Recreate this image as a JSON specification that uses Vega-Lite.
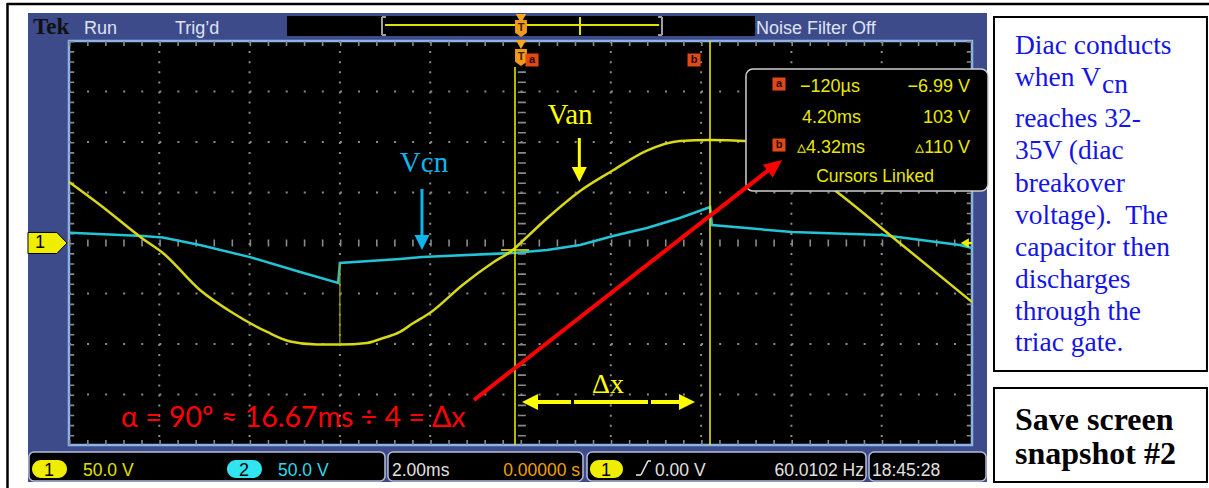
{
"$schema": "https://vega.github.io/schema/vega-lite/v6.json",
"width": 1209, "height": 488, "padding": 0, "autosize": {"type": "none"},
"background": "#ffffff",
"config": {"view": {"stroke": null}},
"encoding": {
 "x": {"field": "t", "type": "quantitative", "scale": {"domain": [-11.528, 15.249], "nice": false, "zero": false}, "axis": null},
 "y": {"field": "v", "type": "quantitative", "scale": {"domain": [-242.57, 240.59], "nice": false, "zero": false}, "axis": null}
},
"layer": [
 {"data": {"values": [{"t": -11.373, "v": 236.63, "t2": 15.249, "v2": 236.63}, {"t": -11.362, "v": 237.62, "t2": -11.362, "v2": -242.57}]},
  "mark": {"type": "rule", "color": "#000000", "strokeWidth": 2.5},
  "encoding": {"x2": {"field": "t2"}, "y2": {"field": "v2"}}},
 {"data": {"values": [{"t": -10.908, "v": 227.72, "t2": 10.332, "v2": -236.63}]},
  "mark": {"type": "rect", "fill": "#3d4b8b"},
  "encoding": {"x2": {"field": "t2"}, "y2": {"field": "v2"}}},
 {"data": {"values": [{"t": -5.172, "v": 224.75, "t2": 5.194, "v2": 204.95}]},
  "mark": {"type": "rect", "fill": "#000000"},
  "encoding": {"x2": {"field": "t2"}, "y2": {"field": "v2"}}},
 {"data": {"values": [
   {"t": -3.068, "v": 223.76, "t2": -3.068, "v2": 205.94},
   {"t": 3.134, "v": 223.76, "t2": 3.134, "v2": 205.94},
   {"t": -3.068, "v": 223.76, "t2": -2.98, "v2": 223.76},
   {"t": -3.068, "v": 205.94, "t2": -2.98, "v2": 205.94},
   {"t": 3.134, "v": 223.76, "t2": 3.046, "v2": 223.76},
   {"t": 3.134, "v": 205.94, "t2": 3.046, "v2": 205.94}]},
  "mark": {"type": "rule", "color": "#a0a0a0", "strokeWidth": 2},
  "encoding": {"x2": {"field": "t2"}, "y2": {"field": "v2"}}},
 {"data": {"values": [
   {"t": -3.0, "v": 215.84, "t2": 3.07, "v2": 215.84},
   {"t": 1.318, "v": 223.76, "t2": 1.318, "v2": 205.94}]},
  "mark": {"type": "rule", "color": "#e0e000", "strokeWidth": 2},
  "encoding": {"x2": {"field": "t2"}, "y2": {"field": "v2"}}},
 {"data": {"values": [
   {"t": -9.668, "v": 206.93, "label": "Run"},
   {"t": -7.652, "v": 206.93, "label": "Trig’d"},
   {"t": 5.216, "v": 206.93, "label": "Noise Filter Off"}]},
  "mark": {"type": "text", "align": "left", "baseline": "alphabetic", "font": "Liberation Sans, Arial, sans-serif", "fontSize": 18, "color": "#dfe3f2"},
  "encoding": {"text": {"field": "label"}}},
 {"data": {"values": [{"t": -10.797, "v": 206.93, "label": "Tek"}]},
  "mark": {"type": "text", "align": "left", "baseline": "alphabetic", "font": "Liberation Serif, DejaVu Serif, serif", "fontSize": 23, "fontWeight": "bold", "color": "#111111"},
  "encoding": {"text": {"field": "label"}}},
 {"data": {"values": [{"t": -10.0, "v": 200, "t2": 10.0, "v2": -200}]},
  "mark": {"type": "rect", "fill": "#000000", "stroke": "#8cb4e6", "strokeWidth": 2.5},
  "encoding": {"x2": {"field": "t2"}, "y2": {"field": "v2"}}},
 {"data": {"values": [
   {"t": -8, "v": 200, "v2": -200}, {"t": -6, "v": 200, "v2": -200}, {"t": -4, "v": 200, "v2": -200}, {"t": -2, "v": 200, "v2": -200},
   {"t": 2, "v": 200, "v2": -200}, {"t": 4, "v": 200, "v2": -200}, {"t": 6, "v": 200, "v2": -200}, {"t": 8, "v": 200, "v2": -200}]},
  "mark": {"type": "rule", "color": "#8a8a8a", "strokeWidth": 2, "strokeDash": [2, 8.1]},
  "encoding": {"y2": {"field": "v2"}}},
 {"data": {"values": [
   {"t": -10, "v": 150, "t2": 10}, {"t": -10, "v": 100, "t2": 10}, {"t": -10, "v": 50, "t2": 10},
   {"t": -10, "v": -50, "t2": 10}, {"t": -10, "v": -100, "t2": 10}, {"t": -10, "v": -150, "t2": 10}]},
  "mark": {"type": "rule", "color": "#8a8a8a", "strokeWidth": 2, "strokeDash": [2, 16.06]},
  "encoding": {"x2": {"field": "t2"}}},
 {"data": {"values": [{"t": -10, "v": 0, "t2": 10}]},
  "mark": {"type": "rule", "color": "#8a8a8a", "strokeWidth": 7, "strokeDash": [1.6, 16.46]},
  "encoding": {"x2": {"field": "t2"}}},
 {"data": {"values": [{"t": -10, "v": 197.4, "t2": 10}, {"t": -10, "v": -197.4, "t2": 10}]},
  "mark": {"type": "rule", "color": "#8a8a8a", "strokeWidth": 5, "strokeDash": [1.6, 16.46]},
  "encoding": {"x2": {"field": "t2"}}},
 {"data": {"values": [{"t": 0.03, "v": 200, "v2": -200}]},
  "mark": {"type": "rule", "color": "#8a8a8a", "strokeWidth": 8, "strokeDash": [1.6, 8.5]},
  "encoding": {"y2": {"field": "v2"}}},
 {"data": {"values": [{"t": -9.94, "v": 200, "v2": -200}, {"t": 9.94, "v": 200, "v2": -200}]},
  "mark": {"type": "rule", "color": "#8a8a8a", "strokeWidth": 5, "strokeDash": [1.6, 8.5]},
  "encoding": {"y2": {"field": "v2"}}},
 {"data": {"values": [
   {"t": -9.98, "v": 10.2}, {"t": -8.36, "v": 7.0}, {"t": -7.92, "v": 5.5}, {"t": -7.10, "v": -2.0},
   {"t": -5.99, "v": -14.0}, {"t": -4.88, "v": -28.7}, {"t": -4.04, "v": -39.6}, {"t": -4.0, "v": -19.8},
   {"t": -2.67, "v": -15.8}, {"t": -2.18, "v": -13.9}, {"t": -0.17, "v": -9.9}, {"t": 0.59, "v": -6.9},
   {"t": 1.32, "v": -2.0}, {"t": 2.05, "v": 6.9}, {"t": 2.80, "v": 14.9}, {"t": 3.53, "v": 24.8},
   {"t": 4.20, "v": 35.6}, {"t": 4.24, "v": 17.8}, {"t": 6.01, "v": 10.9}, {"t": 8.01, "v": 7.9},
   {"t": 9.73, "v": -2.0}, {"t": 10.0, "v": -5.0}]},
  "mark": {"type": "line", "color": "#22c4d6", "strokeWidth": 2.5}},
 {"data": {"values": [
   {"t": -10.0, "v": 60.4}, {"t": -9.31, "v": 37.6}, {"t": -8.36, "v": 4.0}, {"t": -7.92, "v": -9.9},
   {"t": -7.10, "v": -46.5}, {"t": -6.37, "v": -69.3}, {"t": -5.61, "v": -88.1}, {"t": -5.10, "v": -97.5},
   {"t": -4.51, "v": -100.5}, {"t": -4.0, "v": -100.5}, {"t": -3.40, "v": -99.0}, {"t": -3.10, "v": -95.0},
   {"t": -2.67, "v": -88.0}, {"t": -2.38, "v": -79.5}, {"t": -2.00, "v": -69.0}, {"t": -1.27, "v": -41.0},
   {"t": -0.60, "v": -19.0}, {"t": -0.17, "v": -6.9}, {"t": 0.0, "v": 0.0}, {"t": 0.59, "v": 24.5},
   {"t": 1.32, "v": 51.5}, {"t": 2.05, "v": 72.0}, {"t": 2.80, "v": 91.5}, {"t": 3.53, "v": 101.0},
   {"t": 4.20, "v": 102.0}, {"t": 4.97, "v": 101.0}, {"t": 5.75, "v": 90.0}, {"t": 7.01, "v": 50.5},
   {"t": 8.18, "v": 8.0}, {"t": 10.0, "v": -58.4}]},
  "mark": {"type": "line", "color": "#d8d818", "strokeWidth": 2.5, "interpolate": "monotone"}},
 {"data": {"values": [{"t": -4.0, "v": -100.5, "v2": -19.8}]},
  "mark": {"type": "rule", "color": "#a8a800", "strokeWidth": 1.2},
  "encoding": {"y2": {"field": "v2"}}},
 {"data": {"values": [{"t": -0.122, "v": 174.3, "v2": -200}, {"t": 4.197, "v": 200, "v2": -200}]},
  "mark": {"type": "rule", "color": "#e6e600", "strokeWidth": 1.6},
  "encoding": {"y2": {"field": "v2"}}},
 {"data": {"values": [{"t": -0.43, "v": -6.9, "t2": 0.19}, {"t": 3.89, "v": 102, "t2": 4.5}]},
  "mark": {"type": "rule", "color": "#e6e600", "strokeWidth": 1.6},
  "encoding": {"x2": {"field": "t2"}}},
 {"data": {"values": [{"t": 0.011, "v": 222.3}, {"t": 0.011, "v": 196.5}]},
  "mark": {"type": "point", "shape": "triangle-down", "filled": true, "size": 110, "color": "#f5a623", "opacity": 1}},
 {"data": {"values": [{"t": 0.011, "v": 212.4}, {"t": 0.011, "v": 183.7}]},
  "mark": {"type": "point", "shape": "M-0.7,-1 L0.7,-1 L0.7,0.5 L0,1 L-0.7,0.5 Z", "filled": true, "size": 289, "color": "#ee9a1e", "opacity": 1}},
 {"data": {"values": [{"t": 0.011, "v": 212.4, "label": "T"}, {"t": 0.011, "v": 183.7, "label": "T"}]},
  "mark": {"type": "text", "align": "center", "baseline": "middle", "font": "Liberation Sans, Arial, sans-serif", "fontSize": 11, "fontWeight": "bold", "color": "#3a2000"},
  "encoding": {"text": {"field": "label"}}},
 {"data": {"values": [{"t": 0.255, "v": 181.2}, {"t": 3.843, "v": 181.2}]},
  "mark": {"type": "point", "shape": "square", "filled": true, "size": 170, "color": "#e04818", "opacity": 1}},
 {"data": {"values": [{"t": 0.255, "v": 181.2, "label": "a"}, {"t": 3.843, "v": 181.2, "label": "b"}]},
  "mark": {"type": "text", "align": "center", "baseline": "middle", "font": "Liberation Sans, Arial, sans-serif", "fontSize": 11, "fontWeight": "bold", "color": "#200800"},
  "encoding": {"text": {"field": "label"}}},
 {"data": {"values": [{"t": -10.476, "v": 0}]},
  "mark": {"type": "point", "shape": "M-1,-0.54 L0.48,-0.54 L1,0 L0.48,0.54 L-1,0.54 Z", "filled": true, "size": 1521, "color": "#f0ee00", "stroke": "#000000", "strokeWidth": 1, "opacity": 1}},
 {"data": {"values": [{"t": -10.642, "v": 0, "label": "1"}]},
  "mark": {"type": "text", "align": "center", "baseline": "middle", "font": "Liberation Sans, Arial, sans-serif", "fontSize": 18, "color": "#000000"},
  "encoding": {"text": {"field": "label"}}},
 {"data": {"values": [{"t": 9.84, "v": 0}]},
  "mark": {"type": "point", "shape": "triangle-left", "filled": true, "size": 90, "color": "#f0ee00", "opacity": 1}},
 {"data": {"values": [{"t": 9.84, "v": 0, "t2": 10.0}]},
  "mark": {"type": "rule", "color": "#f0ee00", "strokeWidth": 2},
  "encoding": {"x2": {"field": "t2"}}},
 {"data": {"values": [{"t": 4.994, "v": 172.3, "t2": 10.354, "v2": 51.5}]},
  "mark": {"type": "rect", "fill": "#000000", "stroke": "#cfcfcf", "strokeWidth": 1.5, "cornerRadius": 7},
  "encoding": {"x2": {"field": "t2"}, "y2": {"field": "v2"}}},
 {"data": {"values": [{"t": 5.725, "v": 157.4}, {"t": 5.725, "v": 97.0}]},
  "mark": {"type": "point", "shape": "square", "filled": true, "size": 170, "color": "#e04818", "opacity": 1}},
 {"data": {"values": [{"t": 5.725, "v": 157.4, "label": "a"}, {"t": 5.725, "v": 97.0, "label": "b"}]},
  "mark": {"type": "text", "align": "center", "baseline": "middle", "font": "Liberation Sans, Arial, sans-serif", "fontSize": 11, "fontWeight": "bold", "color": "#200800"},
  "encoding": {"text": {"field": "label"}}},
 {"data": {"values": [{"t": 6.190, "v": 149.5, "label": "−120µs"}, {"t": 6.235, "v": 118.8, "label": "4.20ms"}, {"t": 6.124, "v": 89.1, "label": "▵4.32ms"}]},
  "mark": {"type": "text", "align": "left", "baseline": "alphabetic", "font": "Liberation Sans, Arial, sans-serif", "fontSize": 18, "color": "#e8e800"},
  "encoding": {"text": {"field": "label"}}},
 {"data": {"values": [{"t": 9.956, "v": 149.5, "label": "−6.99 V"}, {"t": 9.956, "v": 118.8, "label": "103 V"}, {"t": 9.956, "v": 89.1, "label": "▵110 V"}]},
  "mark": {"type": "text", "align": "right", "baseline": "alphabetic", "font": "Liberation Sans, Arial, sans-serif", "fontSize": 18, "color": "#e8e800"},
  "encoding": {"text": {"field": "label"}}},
 {"data": {"values": [{"t": 7.852, "v": 60.4, "label": "Cursors Linked"}]},
  "mark": {"type": "text", "align": "center", "baseline": "alphabetic", "font": "Liberation Sans, Arial, sans-serif", "fontSize": 17.5, "color": "#e8e800"},
  "encoding": {"text": {"field": "label"}}},
 {"data": {"values": [{"t": 1.096, "v": 117.8, "label": "Van"}]},
  "mark": {"type": "text", "align": "center", "baseline": "alphabetic", "font": "Liberation Serif, DejaVu Serif, serif", "fontSize": 29, "color": "#ffff00"},
  "encoding": {"text": {"field": "label"}}},
 {"data": {"values": [{"t": -2.137, "v": 70.3, "label": "Vcn"}]},
  "mark": {"type": "text", "align": "center", "baseline": "alphabetic", "font": "Liberation Serif, DejaVu Serif, serif", "fontSize": 29, "color": "#10b4ec"},
  "encoding": {"text": {"field": "label"}}},
 {"data": {"values": [{"t": 1.303, "v": 103.96, "v2": 72.28}]},
  "mark": {"type": "rule", "color": "#ffff00", "strokeWidth": 3},
  "encoding": {"y2": {"field": "v2"}}},
 {"data": {"values": [{"t": 1.303, "v": 67.82}]},
  "mark": {"type": "point", "shape": "M0,1 L-1,-1 L1,-1 Z", "filled": true, "size": 225, "color": "#ffff00", "opacity": 1}},
 {"data": {"values": [{"t": -2.182, "v": 53.47, "v2": 5.94}]},
  "mark": {"type": "rule", "color": "#10b4ec", "strokeWidth": 3},
  "encoding": {"y2": {"field": "v2"}}},
 {"data": {"values": [{"t": -2.182, "v": 0.5}]},
  "mark": {"type": "point", "shape": "M0,1 L-1,-1 L1,-1 Z", "filled": true, "size": 225, "color": "#10b4ec", "opacity": 1}},
 {"data": {"values": [{"t": 1.938, "v": -148.5, "label": "Δx"}]},
  "mark": {"type": "text", "align": "center", "baseline": "alphabetic", "font": "Liberation Serif, DejaVu Serif, serif", "fontSize": 28, "color": "#ffff00"},
  "encoding": {"text": {"field": "label"}}},
 {"data": {"values": [{"t": 0.166, "v": -157.43, "t2": 1.118}, {"t": 1.185, "v": -157.43, "t2": 2.824}, {"t": 2.890, "v": -157.43, "t2": 3.688}]},
  "mark": {"type": "rule", "color": "#ffff00", "strokeWidth": 4},
  "encoding": {"x2": {"field": "t2"}}},
 {"data": {"values": [{"t": 3.688, "v": -157.43}]},
  "mark": {"type": "point", "shape": "M1,0 L-1,-1 L-1,1 Z", "filled": true, "size": 256, "color": "#ffff00", "opacity": 1}},
 {"data": {"values": [{"t": 0.210, "v": -157.43}]},
  "mark": {"type": "point", "shape": "M-1,0 L1,-1 L1,1 Z", "filled": true, "size": 256, "color": "#ffff00", "opacity": 1}},
 {"data": {"values": [{"t": -8.848, "v": -182.2, "label": "α = 90º ≈ 16.67ms ÷ 4 = Δx"}]},
  "mark": {"type": "text", "align": "left", "baseline": "alphabetic", "font": "Lato, Open Sans, sans-serif", "fontSize": 28.5, "color": "#ff0000"},
  "encoding": {"text": {"field": "label"}}},
 {"data": {"values": [{"t": -1.030, "v": -155.4, "t2": 5.570, "v2": 74.85}]},
  "mark": {"type": "rule", "color": "#ff0000", "strokeWidth": 4},
  "encoding": {"x2": {"field": "t2"}, "y2": {"field": "v2"}}},
 {"data": {"values": [{"t": 5.635, "v": 76.73}]},
  "mark": {"type": "point", "shape": "M1,0 L-1,-0.9 L-1,0.9 Z", "filled": true, "size": 324, "angle": -37.9, "color": "#ff0000", "opacity": 1}},
 {"data": {"values": [
   {"t": -10.886, "v": -206.9, "t2": -3.001, "v2": -235.6},
   {"t": -2.935, "v": -206.9, "t2": 1.384, "v2": -235.6},
   {"t": 1.473, "v": -206.9, "t2": 7.653, "v2": -235.6},
   {"t": 7.719, "v": -206.9, "t2": 10.310, "v2": -235.6}]},
  "mark": {"type": "rect", "fill": "#000000", "stroke": "#b4bcd8", "strokeWidth": 1.5, "cornerRadius": 5},
  "encoding": {"x2": {"field": "t2"}, "y2": {"field": "v2"}}},
 {"data": {"values": [{"t": -10.819, "v": -214.9, "t2": -10.044, "v2": -232.7}, {"t": 1.539, "v": -214.9, "t2": 2.270, "v2": -232.7}]},
  "mark": {"type": "rect", "fill": "#f0ee00", "cornerRadius": 9},
  "encoding": {"x2": {"field": "t2"}, "y2": {"field": "v2"}}},
 {"data": {"values": [{"t": -6.501, "v": -214.9, "t2": -5.726, "v2": -232.7}]},
  "mark": {"type": "rect", "fill": "#30e4f0", "cornerRadius": 9},
  "encoding": {"x2": {"field": "t2"}, "y2": {"field": "v2"}}},
 {"data": {"values": [{"t": -10.443, "v": -230.69, "label": "1"}, {"t": -6.124, "v": -230.69, "label": "2"}, {"t": 1.894, "v": -230.69, "label": "1"}]},
  "mark": {"type": "text", "align": "center", "baseline": "alphabetic", "font": "Liberation Sans, Arial, sans-serif", "fontSize": 18, "color": "#000000"},
  "encoding": {"text": {"field": "label"}}},
 {"data": {"values": [{"t": -9.690, "v": -230.69, "label": "50.0 V"}]},
  "mark": {"type": "text", "align": "left", "baseline": "alphabetic", "font": "Liberation Sans, Arial, sans-serif", "fontSize": 17.5, "color": "#e0e000"},
  "encoding": {"text": {"field": "label"}}},
 {"data": {"values": [{"t": -5.371, "v": -230.69, "label": "50.0 V"}]},
  "mark": {"type": "text", "align": "left", "baseline": "alphabetic", "font": "Liberation Sans, Arial, sans-serif", "fontSize": 17.5, "color": "#30d8e8"},
  "encoding": {"text": {"field": "label"}}},
 {"data": {"values": [{"t": -2.846, "v": -230.69, "label": "2.00ms"}, {"t": 2.979, "v": -230.69, "label": "0.00 V"}, {"t": 7.785, "v": -230.69, "label": "18:45:28"}]},
  "mark": {"type": "text", "align": "left", "baseline": "alphabetic", "font": "Liberation Sans, Arial, sans-serif", "fontSize": 17.5, "color": "#e0e0e0"},
  "encoding": {"text": {"field": "label"}}},
 {"data": {"values": [{"t": 1.318, "v": -230.69, "label": "0.00000 s"}]},
  "mark": {"type": "text", "align": "right", "baseline": "alphabetic", "font": "Liberation Sans, Arial, sans-serif", "fontSize": 17.5, "color": "#f0a000"},
  "encoding": {"text": {"field": "label"}}},
 {"data": {"values": [{"t": 7.608, "v": -230.69, "label": "60.0102 Hz"}]},
  "mark": {"type": "text", "align": "right", "baseline": "alphabetic", "font": "Liberation Sans, Arial, sans-serif", "fontSize": 17.5, "color": "#e0e0e0"},
  "encoding": {"text": {"field": "label"}}},
 {"data": {"values": [
   {"t": 2.558, "v": -229.7, "t2": 2.669, "v2": -229.7},
   {"t": 2.669, "v": -229.7, "t2": 2.824, "v2": -215.8},
   {"t": 2.824, "v": -215.8, "t2": 2.890, "v2": -215.8}]},
  "mark": {"type": "rule", "color": "#e0e0e0", "strokeWidth": 1.6},
  "encoding": {"x2": {"field": "t2"}, "y2": {"field": "v2"}}},
 {"data": {"values": [{"t": 10.487, "v": 223.76, "t2": 15.204, "v2": -126.73}, {"t": 10.487, "v": -143.56, "t2": 15.204, "v2": -236.63}]},
  "mark": {"type": "rect", "fill": "#ffffff", "stroke": "#000000", "strokeWidth": 2},
  "encoding": {"x2": {"field": "t2"}, "y2": {"field": "v2"}}},
 {"data": {"values": [
   {"t": 10.952, "v": 187.13, "label": "Diac conducts"},
   {"t": 10.952, "v": 155.45, "label": "when V"},
   {"t": 10.952, "v": 114.85, "label": "reaches 32-"},
   {"t": 10.952, "v": 83.17, "label": "35V (diac"},
   {"t": 10.952, "v": 50.50, "label": "breakover"},
   {"t": 10.952, "v": 18.81, "label": "voltage).\u00a0 The"},
   {"t": 10.952, "v": -12.87, "label": "capacitor then"},
   {"t": 10.952, "v": -44.55, "label": "discharges"},
   {"t": 10.952, "v": -76.24, "label": "through the"},
   {"t": 10.952, "v": -106.93, "label": "triac gate."}]},
  "mark": {"type": "text", "align": "left", "baseline": "alphabetic", "font": "Liberation Serif, Times New Roman, serif", "fontSize": 27.5, "color": "#1414e6"},
  "encoding": {"text": {"field": "label"}}},
 {"data": {"values": [{"t": 12.879, "v": 148.5, "label": "cn"}]},
  "mark": {"type": "text", "align": "left", "baseline": "alphabetic", "font": "Liberation Serif, Times New Roman, serif", "fontSize": 27.5, "color": "#1414e6"},
  "encoding": {"text": {"field": "label"}}},
 {"data": {"values": [{"t": 10.952, "v": -185.15, "label": "Save screen"}, {"t": 10.952, "v": -218.81, "label": "snapshot #2"}]},
  "mark": {"type": "text", "align": "left", "baseline": "alphabetic", "font": "Liberation Serif, Times New Roman, serif", "fontSize": 32, "fontWeight": "bold", "color": "#000000"},
  "encoding": {"text": {"field": "label"}}}
]
}
